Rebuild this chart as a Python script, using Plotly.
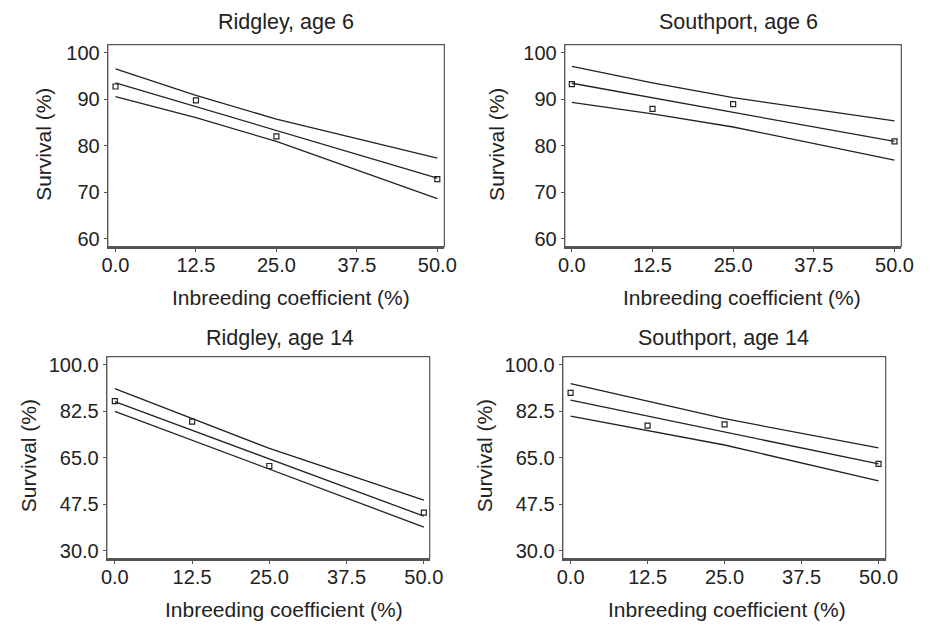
import plotly.graph_objects as go

# ---------------- data ----------------
x_levels = [0, 12.5, 25, 50]
x_fit = [0, 50]

titles = ["Ridgley, age 6", "Southport, age 6", "Ridgley, age 14", "Southport, age 14"]
x_title = "Inbreeding coefficient (%)"
y_title = "Survival (%)"

ridgley6_obs = [92.7, 89.7, 82.0, 72.8]
ridgley6_fit = [93.5, 73.0]
ridgley6_upper = [96.5, 90.8, 85.7, 77.3]
ridgley6_lower = [90.5, 86.0, 80.9, 68.6]

southport6_obs = [93.2, 87.9, 88.9, 80.9]
southport6_fit = [93.4, 80.9]
southport6_upper = [97.0, 93.5, 90.3, 85.3]
southport6_lower = [89.3, 86.8, 84.0, 76.9]

ridgley14_obs = [86.3, 78.6, 61.9, 44.3]
ridgley14_fit = [86.1, 43.0]
ridgley14_upper = [91.0, 79.8, 68.5, 49.0]
ridgley14_lower = [82.5, 71.6, 60.4, 38.9]

southport14_obs = [89.4, 77.1, 77.6, 62.7]
southport14_fit = [86.7, 62.7]
southport14_upper = [92.9, 86.3, 79.7, 68.7]
southport14_lower = [80.7, 75.3, 69.8, 56.3]

x_ticks = [0, 12.5, 25, 37.5, 50]
x_ticklabels = ["0.0", "12.5", "25.0", "37.5", "50.0"]
y_ticks_age6 = [60, 70, 80, 90, 100]
y_ticklabels_age6 = ["60", "70", "80", "90", "100"]
y_ticks_age14 = [30, 47.5, 65, 82.5, 100]
y_ticklabels_age14 = ["30.0", "47.5", "65.0", "82.5", "100.0"]

panels = [
    (ridgley6_obs, ridgley6_fit, ridgley6_upper, ridgley6_lower),
    (southport6_obs, southport6_fit, southport6_upper, southport6_lower),
    (ridgley14_obs, ridgley14_fit, ridgley14_upper, ridgley14_lower),
    (southport14_obs, southport14_fit, southport14_upper, southport14_lower),
]

# ---------------- layout geometry (pixels) ----------------
W, H = 930, 628
frames = [  # x0, x1, y0(top), y1(bottom)
    (103, 447, 42, 246),
    (570, 914, 42, 246),
    (102, 432, 357, 561),
    (568, 898, 357, 561),
]
x_ranges = [[-1.2, 51.1], [-1.1, 51.06], [-1.3, 50.95], [-1.27, 51.16]]
y_ranges = [[58.3, 101.7], [58.3, 101.7], [27.0, 103.1], [27.0, 103.1]]
title_pos = [(285.5, 19), (747.5, 19), (279, 338), (732, 338)]
xtitle_pos = [(290, 297), (751, 297), (283, 612), (736, 612)]
ytitle_pos = [(37, 143), (500, 143), (22, 457), (488, 457)]

FONT = "Liberation Sans, Arial, Helvetica, sans-serif"
INK = "#222222"
AXC = "#555555"

fig = go.Figure()
layout = dict(
    width=W, height=H,
    margin=dict(l=0, r=0, t=0, b=0),
    paper_bgcolor="white", plot_bgcolor="white",
    showlegend=False,
    font=dict(family=FONT, color=INK, size=20),
)
annotations = []
shapes = []

for i, (obs, fit, up, lo) in enumerate(panels):
    n = "" if i == 0 else str(i + 1)
    xa, ya = "x" + n, "y" + n
    for ys in (up, lo):
        fig.add_trace(go.Scatter(x=x_levels, y=ys, mode="lines", xaxis=xa, yaxis=ya,
                                 line=dict(color=INK, width=1.3), hoverinfo="skip"))
    fig.add_trace(go.Scatter(x=x_fit, y=fit, mode="lines", xaxis=xa, yaxis=ya,
                             line=dict(color=INK, width=1.3), hoverinfo="skip"))
    fig.add_trace(go.Scatter(x=x_levels, y=obs, mode="markers", xaxis=xa, yaxis=ya,
                             marker=dict(symbol="square-open", size=5, color=INK,
                                         line=dict(width=1.2, color=INK))))
    x0, x1, t, b = frames[i]
    age6 = i < 2
    layout["xaxis" + n] = dict(
        domain=[x0 / W, x1 / W], anchor=ya, range=x_ranges[i],
        tickvals=x_ticks, ticktext=x_ticklabels,
        ticks="outside", ticklen=3, tickwidth=1, tickcolor=AXC,
        ticklabelstandoff=-4,
        showgrid=False, zeroline=False, showline=True, linecolor=AXC, linewidth=2,
        tickfont=dict(size=20, color=INK, family=FONT),
    )
    layout["yaxis" + n] = dict(
        domain=[1 - b / H, 1 - t / H], anchor=xa, range=y_ranges[i],
        tickvals=y_ticks_age6 if age6 else y_ticks_age14,
        ticktext=y_ticklabels_age6 if age6 else y_ticklabels_age14,
        ticks="outside", ticklen=3, tickwidth=1, tickcolor=AXC,
        showgrid=False, zeroline=False, showline=True, linecolor=AXC, linewidth=1.2,
        tickfont=dict(size=20, color=INK, family=FONT),
    )
    shapes.append(dict(type="rect", xref=xa + " domain", yref=ya + " domain",
                       x0=0, x1=1, y0=0, y1=1, line=dict(color=AXC, width=1.2),
                       fillcolor="rgba(0,0,0,0)", layer="above"))
    tx, ty = title_pos[i]
    annotations.append(dict(text=titles[i], x=tx / W, y=1 - ty / H, xref="paper", yref="paper",
                            showarrow=False, xanchor="center", yanchor="middle",
                            font=dict(size=21.5, color=INK, family=FONT)))
    tx, ty = xtitle_pos[i]
    annotations.append(dict(text=x_title, x=tx / W, y=1 - ty / H, xref="paper", yref="paper",
                            showarrow=False, xanchor="center", yanchor="middle",
                            font=dict(size=21, color=INK, family=FONT)))
    tx, ty = ytitle_pos[i]
    annotations.append(dict(text=y_title, x=tx / W, y=1 - ty / H, xref="paper", yref="paper",
                            showarrow=False, xanchor="center", yanchor="middle", textangle=-90,
                            font=dict(size=21, color=INK, family=FONT)))

layout["annotations"] = annotations
layout["shapes"] = shapes
fig.update_layout(**layout)
fig.write_html(
    "out.html",
    config={"displayModeBar": False},
    post_script="document.body.style.margin='0';document.body.style.padding='0';"
                "document.body.style.overflow='hidden';"
                "document.documentElement.style.overflow='hidden';",
)
